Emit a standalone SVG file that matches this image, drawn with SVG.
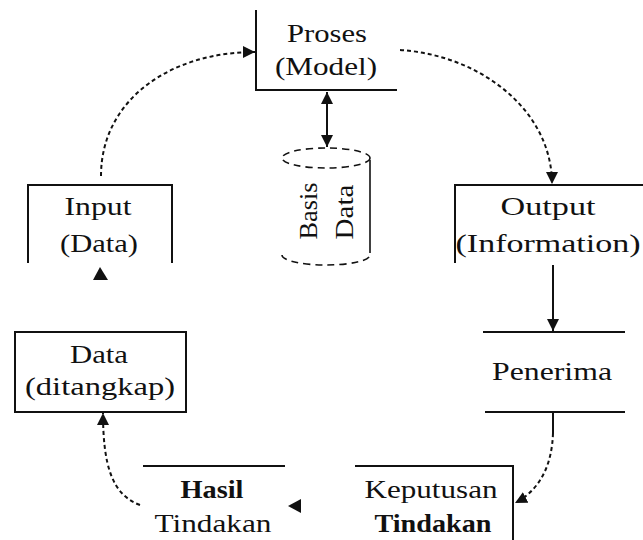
<svg xmlns="http://www.w3.org/2000/svg" width="643" height="540" viewBox="0 0 643 540">
<style>
.box{fill:none;stroke:#111;stroke-width:2}
.t{font-family:"Liberation Serif","Times New Roman",serif;font-size:26px;fill:#111;text-anchor:middle}
.b{font-weight:bold}
.solid{fill:none;stroke:#111;stroke-width:2}
.dash{fill:none;stroke:#111;stroke-width:2;stroke-dasharray:4,3}
.cyl{fill:none;stroke:#111;stroke-width:1.6;stroke-dasharray:7,5}
.head{fill:#111}
</style>
<defs>
<marker id="ah" markerUnits="userSpaceOnUse" markerWidth="14" markerHeight="14" refX="12" refY="6" orient="auto">
<path d="M0,0 L12,6 L0,12 z" fill="#111"/>
</marker>
<marker id="ahs" markerUnits="userSpaceOnUse" markerWidth="14" markerHeight="14" refX="12" refY="6" orient="auto-start-reverse">
<path d="M0,0 L12,6 L0,12 z" fill="#111"/>
</marker>
</defs>
<rect width="643" height="540" fill="#fff"/>

<g id="proses">
<path class="box" d="M256,10 V90 H397"/>
<text class="t" x="327" y="42" textLength="80" lengthAdjust="spacingAndGlyphs">Proses</text>
<text class="t" x="326" y="75" textLength="102" lengthAdjust="spacingAndGlyphs">(Model)</text>
</g>

<g id="basis-data">
<ellipse class="cyl" cx="326" cy="158" rx="44" ry="10"/>
<path class="cyl" d="M282,255 A44,10 0 0 0 370,255"/>
<line x1="370" y1="160" x2="370" y2="253" stroke="#111" stroke-width="1.6"/>
<text class="t" transform="translate(317,211) rotate(-90)" textLength="57" lengthAdjust="spacingAndGlyphs">Basis</text>
<text class="t" transform="translate(353,212) rotate(-90)" textLength="55" lengthAdjust="spacingAndGlyphs">Data</text>
</g>

<g id="input">
<path class="box" d="M28,263 V185 H172 V263"/>
<text class="t" x="98" y="215" textLength="67" lengthAdjust="spacingAndGlyphs">Input</text>
<text class="t" x="99" y="252" textLength="78" lengthAdjust="spacingAndGlyphs">(Data)</text>
</g>

<g id="output">
<path class="box" d="M455,263 V185 H643"/>
<text class="t" x="548" y="215" textLength="95" lengthAdjust="spacingAndGlyphs">Output</text>
<text class="t" x="548" y="252" textLength="185" lengthAdjust="spacingAndGlyphs">(Information)</text>
</g>

<g id="penerima">
<line class="box" x1="483" y1="332" x2="625" y2="332"/>
<line class="box" x1="485" y1="412" x2="625" y2="412"/>
<text class="t" x="552" y="380" textLength="120" lengthAdjust="spacingAndGlyphs">Penerima</text>
</g>

<g id="data-ditangkap">
<rect class="box" x="15" y="332" width="171" height="80"/>
<text class="t" x="99" y="363" textLength="58" lengthAdjust="spacingAndGlyphs">Data</text>
<text class="t" x="100" y="395" textLength="150" lengthAdjust="spacingAndGlyphs">(ditangkap)</text>
</g>

<g id="hasil-tindakan">
<line class="box" x1="143" y1="466" x2="285" y2="466"/>
<text class="t b" x="212" y="498" textLength="63" lengthAdjust="spacingAndGlyphs">Hasil</text>
<text class="t" x="213" y="532" textLength="117" lengthAdjust="spacingAndGlyphs">Tindakan</text>
</g>

<g id="keputusan-tindakan">
<path class="box" d="M355,466 H513 V540"/>
<text class="t" x="431" y="498" textLength="133" lengthAdjust="spacingAndGlyphs">Keputusan</text>
<text class="t b" x="433" y="532" textLength="117" lengthAdjust="spacingAndGlyphs">Tindakan</text>
</g>

<g id="connectors">
<path class="dash" d="M101,176 C101,100 170,52 255,52" marker-end="url(#ah)"/>
<path class="dash" d="M400,50 C480,55 552,110 552,184" marker-end="url(#ah)"/>
<line class="solid" x1="327" y1="92" x2="327" y2="147" marker-start="url(#ahs)" marker-end="url(#ah)"/>
<line class="solid" x1="553" y1="265" x2="553" y2="331" marker-end="url(#ah)"/>
<line class="solid" x1="553" y1="412" x2="553" y2="433"/>
<path class="dash" d="M553,433 C552,465 540,490 515,503" marker-end="url(#ah)"/>
<polygon class="head" points="288,506 301,499 301,513"/>
<path class="dash" d="M140,505 C112,495 103,465 103,413" marker-end="url(#ah)"/>
<polygon class="head" points="100,267 93,280 108,280"/>
</g>
</svg>
